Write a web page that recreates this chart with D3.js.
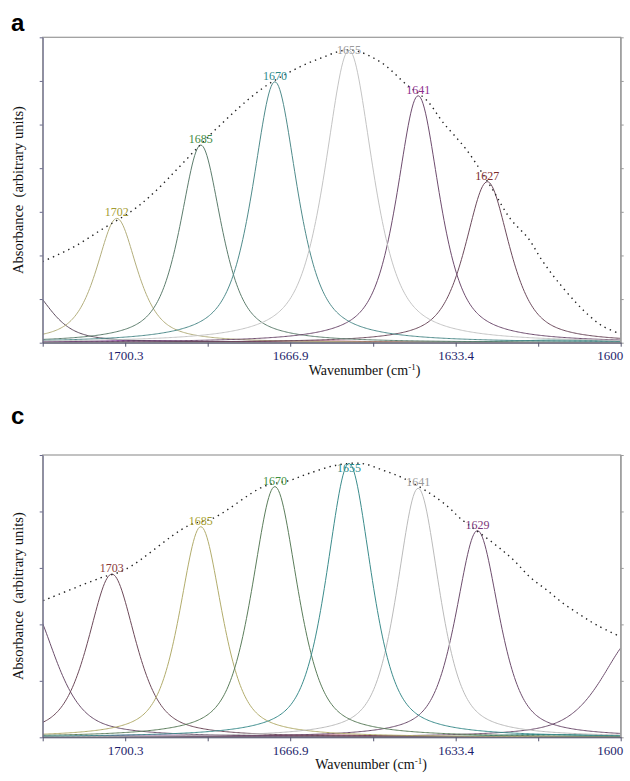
<!DOCTYPE html>
<html>
<head>
<meta charset="utf-8">
<script src="https://cdn.jsdelivr.net/npm/d3@7/dist/d3.min.js"></script>
<style>
  body { margin: 0; background: #fff; }
  svg { display: block; }
</style>
</head>
<body>
<div id="container"></div>
<script>
const w = 630
const h = 781
const serif = "'Liberation Serif', 'DejaVu Serif', serif"

// wavenumber axis (cm-1), reversed, shared by both panels
const wnDomain = [1717, 1600]
const wnTicks = [1717, 1700.3, 1683.6, 1666.9, 1650.1, 1633.4, 1616.7, 1600]
const wnTickLabels = ['', '1700.3', '', '1666.9', '', '1633.4', '', '1600']

// panel a : fitted components (center, height, half width)
const labelsA = ['', '1702', '1685', '1670', '1655', '1641', '1627', '', '', '']
const centersA = [1720, 1702, 1685, 1670, 1655, 1641, 1627, 1698, 1664, 1612]
const heightsA = [1.26, 2.85, 4.53, 5.98, 6.7, 5.66, 3.69, 0.05, 0.04, 0.06]
const widthsA = [5.5, 4.9, 5.0, 5.4, 5.8, 5.2, 5.4, 14, 18, 14]
// panel a : measured envelope (dotted)
const envWnA = [1717, 1710.8, 1704.7, 1698.7, 1694.3, 1681.8, 1673, 1666.9, 1660.8, 1654.8, 1648.7, 1643.3, 1639.3, 1635.9, 1631.2, 1626.1, 1622.4, 1618.7, 1616, 1613, 1608.9, 1606.2, 1603.5, 1600]
const envA = [1.86, 2.19, 2.62, 3.04, 3.46, 4.91, 5.79, 6.21, 6.52, 6.71, 6.44, 5.91, 5.56, 5.04, 4.42, 3.54, 2.85, 2.39, 1.9, 1.44, 0.9, 0.6, 0.37, 0.2]

// panel c
const labelsC = ['', '1703', '1685', '1670', '1655', '1641', '1629', '', '', '', '']
const centersC = [1720, 1703, 1685, 1670, 1655, 1641, 1629, 1597, 1695, 1660, 1615]
const heightsC = [2.4, 2.89, 3.73, 4.44, 4.85, 4.41, 3.66, 1.78, 0.04, 0.04, 0.05]
const widthsC = [6.5, 5.7, 5.1, 5.5, 5.4, 5.1, 5.2, 8, 14, 18, 14]
const envWnC = [1716.9, 1705.4, 1700.3, 1687.5, 1682.5, 1672.3, 1667, 1662.9, 1657.5, 1652.4, 1648.1, 1644, 1638.6, 1634.9, 1632.5, 1625.8, 1621.7, 1618.4, 1615, 1611.6, 1608.2, 1604.9, 1600]
const envC = [2.42, 2.82, 2.97, 3.75, 3.88, 4.44, 4.55, 4.68, 4.82, 4.85, 4.73, 4.59, 4.32, 4.08, 3.88, 3.44, 3.14, 2.84, 2.61, 2.37, 2.17, 1.99, 1.78]

const curveColorsA = ['#5c4a5c', '#b3ae7c', '#5d7d6d', '#4f8b8b', '#c4c4c4', '#6e4c6e', '#6c4a5c', '#7b2a90', '#8a1c3c', '#1d7a72']
const labelColorsA = ['', '#a39c32', '#3f8a3f', '#2e8b8b', '#9a9a9a', '#8e2f8e', '#7d2b2b', '', '', '']
const curveColorsC = ['#6a4d6a', '#6d4a5a', '#b2ac6c', '#5b7d5b', '#3c8c8c', '#bbbbbb', '#6d4d6d', '#6d4d6d', '#7b2a90', '#8a1c3c', '#1d7a72']
const labelColorsC = ['', '#8b3b3b', '#a79f2f', '#3f8f3f', '#2a8c8c', '#9a9a9a', '#7c367c', '', '', '', '']

const left = 42.7
const right = 620.7

var svg = d3.select('div#container')
  .append('svg')
  .attr('width', w)
  .attr('height', h)
  .attr('font-family', serif)

// pseudo-Voigt line shape
function pv(x, c, a, hw, eta) {
  var u = (x - c) / hw
  return a * (eta / (1 + u * u) + (1 - eta) * Math.exp(-Math.LN2 * u * u))
}

function drawPanel(p) {
  var x = d3.scaleLinear().domain(wnDomain).range([left, right])
  var y = d3.scaleLinear().domain([0, p.yMax]).range([p.bottom, p.top])
  var g = svg.append('g')

  g.append('text')
    .attr('x', 11)
    .attr('y', p.letterY)
    .attr('font-family', "'Liberation Sans', Arial, sans-serif")
    .attr('font-weight', 'bold')
    .attr('font-size', 24)
    .text(p.letter)

  g.append('clipPath').attr('id', 'clip-' + p.letter)
    .append('rect')
    .attr('x', left).attr('y', p.top)
    .attr('width', right - left).attr('height', p.bottom - p.top)

  var plot = g.append('g').attr('clip-path', 'url(#clip-' + p.letter + ')')

  var grid = d3.range(1600, 1717.01, 0.25)
  var line = d3.line().x(d => x(d[0])).y(d => y(d[1]))

  // small baseline components first, then the labelled ones on top
  var order = d3.range(p.centers.length).sort((a, b) => p.heights[a] - p.heights[b])
  order.forEach(function (i) {
    plot.append('path')
      .datum(grid.map(v => [v, pv(v, p.centers[i], p.heights[i], p.widths[i], p.eta)]))
      .attr('d', line)
      .attr('fill', 'none')
      .attr('stroke', p.curveColors[i])
      .attr('stroke-width', 1)
  })

  plot.append('path')
    .datum(p.envWn.map((v, i) => [v, p.env[i]]))
    .attr('d', line.curve(d3.curveCatmullRom))
    .attr('fill', 'none')
    .attr('stroke', '#222')
    .attr('stroke-width', 1.4)
    .attr('stroke-dasharray', '1.4,4.2')

  // frame
  g.append('rect')
    .attr('x', left).attr('y', p.top)
    .attr('width', right - left).attr('height', p.bottom - p.top)
    .attr('fill', 'none')
    .attr('stroke', '#9a9a9a')
    .attr('stroke-width', 1.2)

  var yTicks = d3.range(0, p.yMax + 1)
  g.append('g')
    .attr('transform', 'translate(' + left + ',0)')
    .call(d3.axisLeft(y).tickValues(yTicks).tickSize(3).tickSizeOuter(0).tickFormat(''))
    .call(a => a.selectAll('path, line').attr('stroke', '#6a6a8c'))

  g.append('g')
    .attr('transform', 'translate(' + right + ',0)')
    .call(d3.axisRight(y).tickValues(yTicks).tickSize(3).tickSizeOuter(0).tickFormat(''))
    .call(a => a.selectAll('path, line').attr('stroke', '#9a9a9a'))

  var xAxis = g.append('g')
    .attr('transform', 'translate(0,' + p.bottom + ')')
    .call(d3.axisBottom(x).tickValues(wnTicks).tickSize(4).tickSizeOuter(0).tickPadding(4)
      .tickFormat((d, i) => wnTickLabels[i]))
    .attr('font-family', serif)
    .attr('font-size', 13)
  xAxis.selectAll('path, line').attr('stroke', '#55556f')
  xAxis.selectAll('text').attr('fill', '#1d1d6b')
  xAxis.selectAll('.tick').filter(d => d === 1600).select('text')
    .attr('text-anchor', 'end')
    .attr('x', 2)

  // peak labels
  p.labels.forEach(function (lab, i) {
    if (!lab) return
    var apex = y(p.heights[i])
    g.append('text')
      .attr('x', x(p.centers[i]))
      .attr('y', Math.max(apex - 2, p.top + 17))
      .attr('text-anchor', 'middle')
      .attr('font-size', 12)
      .attr('fill', p.labelColors[i])
      .text(lab)
  })

  var xt = g.append('text')
    .attr('x', p.xTitleX)
    .attr('y', p.bottom + 32)
    .attr('text-anchor', 'middle')
    .attr('font-size', 14)
    .attr('fill', '#111')
  xt.append('tspan').text('Wavenumber (cm')
  xt.append('tspan').attr('dy', -5).attr('font-size', 9).text('-1')
  xt.append('tspan').attr('dy', 5).text(')')

  g.append('text')
    .attr('transform', 'translate(23,' + ((p.top + p.bottom) / 2) + ') rotate(-90)')
    .attr('text-anchor', 'middle')
    .attr('font-size', 14.5)
    .attr('fill', '#111')
    .text('Absorbance\u00a0 (arbitrary units)')
}

drawPanel({
  letter: 'a', letterY: 30.5, top: 37.3, bottom: 342.7, yMax: 7, eta: 0.7, xTitleX: 364.5,
  labels: labelsA, centers: centersA, heights: heightsA, widths: widthsA,
  envWn: envWnA, env: envA, curveColors: curveColorsA, labelColors: labelColorsA
})

drawPanel({
  letter: 'c', letterY: 423.5, top: 455, bottom: 737.3, yMax: 5, eta: 0.6, xTitleX: 371,
  labels: labelsC, centers: centersC, heights: heightsC, widths: widthsC,
  envWn: envWnC, env: envC, curveColors: curveColorsC, labelColors: labelColorsC
})
</script>
</body>
</html>
